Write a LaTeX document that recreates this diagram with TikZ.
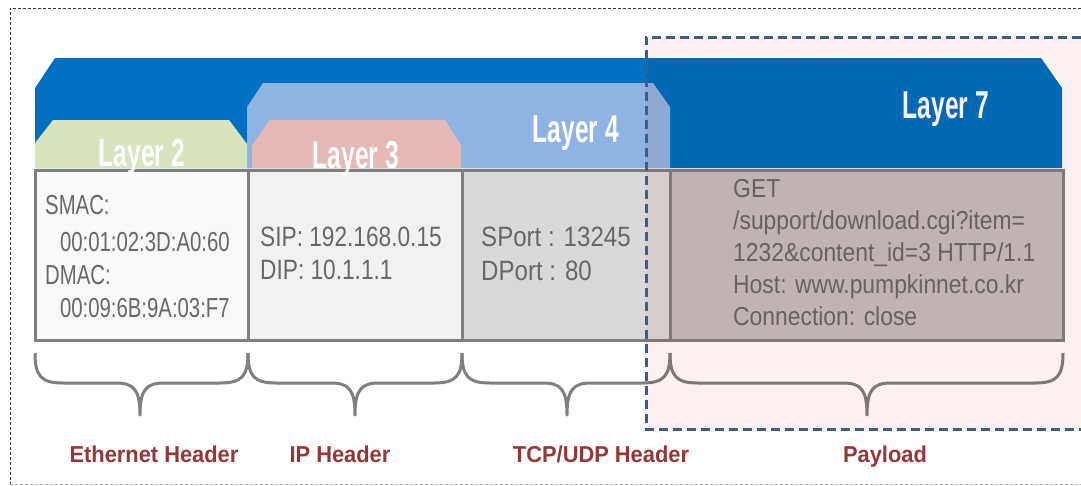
\documentclass[tikz,border=0pt]{standalone}
\usepackage{fontspec}
\setmainfont{Liberation Sans}
\usepackage{graphicx}
\definecolor{lseven}{HTML}{0070C0}
\definecolor{lfour}{HTML}{8DB4E2}
\definecolor{lthree}{HTML}{E6B9B8}
\definecolor{ltwo}{HTML}{D7E4BD}
\definecolor{cellline}{HTML}{7F7F7F}
\definecolor{celltext}{HTML}{686868}
\definecolor{hdrred}{HTML}{953735}
\definecolor{payblue}{HTML}{3B5E8C}
\definecolor{paypink}{HTML}{FDF0F0}
\definecolor{ethfill}{HTML}{F9F9F9}
\definecolor{ipfill}{HTML}{F1F1F1}
\definecolor{tcpfill}{HTML}{D9D9D9}
\definecolor{payfill}{HTML}{C2BFBF}
\tikzset{
  cell/.style={draw=cellline, line width=3pt, rectangle, inner sep=0pt, outer sep=0pt, anchor=north west},
  celltxt/.style={text=celltext, inner sep=0pt, anchor=west},
  layertxt/.style={text=white, inner sep=0pt, anchor=base, font=\bfseries\fontsize{39}{40}\selectfont},
  hdr/.style={text=hdrred, inner sep=0pt, anchor=base, font=\bfseries\fontsize{23}{26}\selectfont},
  bracestyle/.style={draw=cellline, line width=3pt, line join=round},
}
\newcommand{\cnd}[2]{\scalebox{#1}[1]{#2}}
\newcommand{\hbr}[3]{\draw[bracestyle] (#1,353) .. controls (#1,376) and (#1+6,383) .. (#1+28,383) -- (#2-24,383) .. controls (#2-6,383) and (#2,390) .. (#2,415) .. controls (#2,390) and (#2+6,383) .. (#2+24,383) -- (#3-28,383) .. controls (#3-6,383) and (#3,376) .. (#3,353);}
\begin{document}
\begin{tikzpicture}[x=1pt,y=-1pt]
\useasboundingbox[fill=white] (0,0) rectangle (1081,485);
% outer dashed frame
\draw[black!80, line width=1pt, dash pattern=on 3pt off 2pt] (1081,8) -- (10,8) -- (10,484);
\draw[gray!60, line width=1pt, dash pattern=on 3pt off 2pt] (10,484) -- (1081,484);
% layer shapes
\fill[lseven] (35,168) -- (35,88) -- (55,58) -- (1041,58) -- (1062,88) -- (1062,168) -- cycle;
\fill[lfour] (247,168) -- (247,107) -- (263,83) -- (653,83) -- (670,107) -- (670,168) -- cycle;
\fill[ltwo] (35,168) -- (35,143) -- (53,120) -- (229,120) -- (247,144) -- (247,168) -- cycle;
\fill[lthree] (252,168) -- (252,146) -- (269,120) -- (445,120) -- (461,145) -- (461,168) -- cycle;
% cells
\node[cell, fill=ethfill, minimum width=213pt, minimum height=170pt] (eth) at (35,170) {};
\node[cell, fill=ipfill, minimum width=214pt, minimum height=170pt] (ip) at (248,170) {};
\node[cell, fill=tcpfill, minimum width=208pt, minimum height=170pt] (tcp) at (462,170) {};
\node[cell, fill=payfill, minimum width=393pt, minimum height=170pt] (pay) at (670,170) {};
% layer labels
\node[layertxt] (l2) at (142,166) {\cnd{0.63}{Layer 2}};
\node[layertxt] (l3) at (356,168) {\cnd{0.63}{Layer 3}};
\node[layertxt] (l4) at (576,142) {\cnd{0.63}{Layer 4}};
\node[layertxt] (l7) at (946,118) {\cnd{0.63}{Layer 7}};
% cell texts
\node[celltxt] (ethtxt) at (45,259) {\cnd{0.74}{\fontsize{27.5}{33}\selectfont\begin{tabular}{@{}l@{}}SMAC:\\[4pt]\hspace{20pt}00:01:02:3D:A0:60\\DMAC:\\\hspace{20pt}00:09:6B:9A:03:F7\end{tabular}}};
\node[celltxt] (iptxt) at (260,256) {\cnd{0.81}{\fontsize{28}{33}\selectfont\begin{tabular}{@{}l@{}}SIP: 192.168.0.15\\DIP: 10.1.1.1\end{tabular}}};
\node[celltxt] (tcptxt) at (481,257) {\cnd{0.86}{\fontsize{28}{34}\selectfont\begin{tabular}{@{}l@{}}SPort : 13245\\DPort : 80\end{tabular}}};
\node[celltxt] (paytxt) at (733,255) {\cnd{0.88}{\fontsize{26}{32}\selectfont\begin{tabular}{@{}l@{}}GET\\/support/download.cgi?item=\\1232\&content\_id=3 HTTP/1.1\\Host: www.pumpkinnet.co.kr\\Connection: close\end{tabular}}};
% braces
\hbr{35}{140}{248}
\hbr{248}{355}{462}
\hbr{462}{567}{670}
\hbr{670}{867}{1063}
% payload highlight
\fill[paypink, blend mode=multiply] (646,37) rectangle (1095,429);
\draw[payblue, line width=3pt, dash pattern=on 9pt off 5pt] (1095,37) -- (646,37) -- (646,429) -- (1095,429);
% header labels
\node[hdr] (ethhdr) at (154,462) {\cnd{0.95}{Ethernet Header}};
\node[hdr] (iphdr) at (340,462) {\cnd{0.95}{IP Header}};
\node[hdr] (tcphdr) at (601,462) {\cnd{0.95}{TCP/UDP Header}};
\node[hdr] (payhdr) at (885,462) {\cnd{0.95}{Payload}};
\end{tikzpicture}
\end{document}
